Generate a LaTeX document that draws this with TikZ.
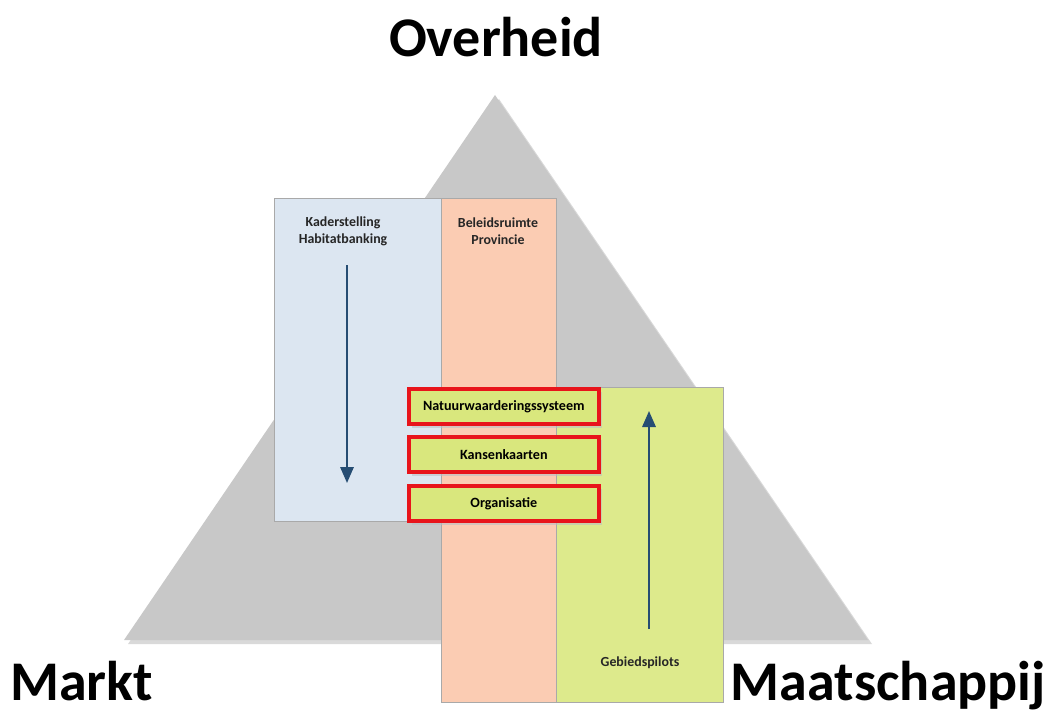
\documentclass[tikz,border=0pt]{standalone}
\usepackage{fontspec}
\setmainfont{Carlito}
\usetikzlibrary{arrows.meta,shadows}
\definecolor{pyramid}{HTML}{C8C8C8}
\definecolor{frameblue}{HTML}{DCE6F1}
\definecolor{framesalmon}{HTML}{FBCCB3}
\definecolor{framegreen}{HTML}{DDEA8C}
\definecolor{boxgreen}{HTML}{D9E77D}
\definecolor{boxred}{HTML}{E8141B}
\definecolor{arrowblue}{HTML}{264D73}
\definecolor{edge}{HTML}{A9A9A9}
% one drawing unit is 0.75pt; node sizes below are given in pt
\tikzset{
  column/.style={draw=edge, line width=0.8pt, anchor=north west, inner sep=0pt},
  itembox/.style={draw=boxred, line width=2.8pt, fill=boxgreen, anchor=north west,
    minimum width=142.5pt, minimum height=26.5pt, inner sep=0pt,
    font=\bfseries\fontsize{10.6pt}{12pt}\selectfont,
    drop shadow={shadow xshift=2.5pt, shadow yshift=-2.5pt, fill=frameblue!60!gray, opacity=0.55}},
  smalllabel/.style={font=\bfseries\fontsize{10.4pt}{12.5pt}\selectfont, align=center, text=black!85},
  biglabel/.style={font=\bfseries\fontsize{42pt}{46pt}\selectfont, inner sep=0pt},
  flow/.style={arrowblue, line width=1.6pt, -{Triangle[width=10pt,length=12pt]}}
}
\begin{document}
\begin{tikzpicture}[x=0.75pt,y=-0.75pt]
\useasboundingbox (0,0) rectangle (1053,713);
% pyramid
\fill[gray!30] (128,644) -- (499,99) -- (872,644) -- cycle;
\fill[pyramid] (124,640) -- (495,95) -- (868,640) -- cycle;
% three columns
\node[column, fill=frameblue, minimum width=125.25pt, minimum height=242.25pt] (kader) at (274,198) {};
\node[column, fill=framesalmon, minimum width=86.25pt, minimum height=378pt] (beleid) at (441,198) {};
\node[column, fill=framegreen, minimum width=125.25pt, minimum height=236.25pt] (gebied) at (556,387) {};
% column captions
\node[smalllabel] (kadertxt) at (343,231) {Kaderstelling\\Habitatbanking};
\node[smalllabel] (beleidtxt) at (498,231) {Beleidsruimte\\Provincie};
\node[smalllabel] (gebiedtxt) at (640,663) {Gebiedspilots};
% instruments
\node[itembox] (nws) at (407,387) {Natuurwaarderingssysteem};
\node[itembox] (kans) at (407,435) {Kansenkaarten};
\node[itembox] (org) at (407,484) {Organisatie};
% flows
\coordinate (downstart) at (347,265);
\coordinate (downend) at (347,483);
\coordinate (upstart) at (649,629);
\coordinate (upend) at (649,411);
\draw[flow] (downstart) -- (downend);
\draw[flow] (upstart) -- (upend);
% corners
\node[biglabel] (overheid) at (496,37) {Overheid};
\node[biglabel, anchor=base west] (markt) at (10,700) {Markt};
\node[biglabel, anchor=base east] (maatsch) at (1046,700) {Maatschappij};
\end{tikzpicture}
\end{document}
